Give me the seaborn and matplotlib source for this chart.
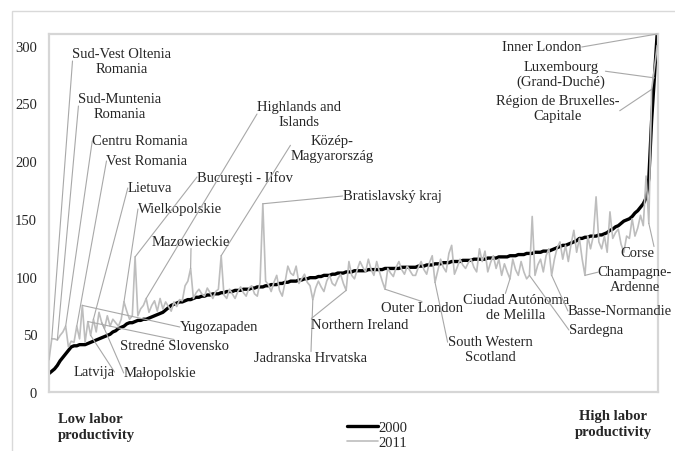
import matplotlib
matplotlib.use("Agg")
import matplotlib.pyplot as plt
from matplotlib.patches import Rectangle
import numpy as np
import pandas as pd
import seaborn as sns

# ---------------- data ----------------
# regions sorted by 2000 labour productivity (index = rank)
prod_2000 = [16, 18, 20, 23, 27, 30, 33, 36, 39,
             40, 40, 41, 41, 41, 42,
             43, 44, 45, 46, 47, 48, 49, 50,
             52, 53, 55, 56, 57, 59,
             60, 60, 61, 62, 62, 63, 63,
             64, 65, 66, 67, 68, 69,
             71, 73, 75,
             76, 77, 78, 78, 79, 80, 80, 81, 82, 82, 83,
             83, 84, 84, 85, 85, 85, 86, 86, 87, 87,
             87, 88, 88, 88, 89, 89, 89, 90, 90, 91, 91, 91, 92,
             92, 93, 93, 93, 94, 94, 95, 95, 96, 96, 96, 97,
             97, 98, 98, 99, 99, 99, 100, 100, 101, 101, 101, 102,
             102, 103, 103, 103, 104, 104, 104, 105,
             105, 105, 105, 105, 106, 106, 106, 106, 106, 106, 107, 107, 107, 107, 107, 107, 108, 108, 108, 108, 108,
             108, 109, 109, 109, 110, 110, 110, 111, 111, 111, 112, 112, 112, 113, 113,
             113, 113, 114, 114, 114, 114, 115, 115, 115, 115, 115, 116, 116, 116, 116, 117, 117, 117,
             117, 118, 118, 118, 119, 119, 119, 120, 120,
             120, 121, 121, 121, 122, 122, 122,
             123, 124, 125, 126, 127, 127,
             128, 129, 130, 131, 133,
             133, 134, 134, 135, 135, 135, 136, 136, 137,
             138, 140, 141, 143, 144, 146, 148,
             149, 150, 152, 155, 157, 160, 163,
             168, 185, 235, 272, 310]

prod_2011 = [28, 46, 46, 45, 49, 52, 57, 39, 44, 43,
             57, 46, 75, 43, 61, 49, 63, 52, 69, 60,
             55, 66, 57, 63, 60, 57, 63, 78, 70, 63,
             66, 117, 66, 72, 75, 81, 69, 75, 79, 70,
             81, 72, 78, 74, 70, 78, 74, 80, 79, 92,
             96, 107, 81, 86, 89, 85, 83, 90, 86, 81,
             87, 89, 118, 84, 81, 89, 85, 81, 87, 91,
             86, 83, 90, 92, 85, 83, 95, 163, 96, 93,
             87, 95, 101, 88, 83, 95, 109, 103, 101, 109,
             94, 98, 102, 95, 92, 80, 90, 96, 91, 87,
             96, 101, 94, 92, 98, 102, 94, 88, 113, 101,
             98, 106, 113, 108, 104, 115, 106, 101, 113, 104,
             96, 89, 107, 103, 100, 108, 113, 106, 102, 109,
             105, 101, 101, 108, 113, 106, 102, 112, 118, 95,
             105, 115, 108, 104, 120, 127, 102, 108, 115, 110,
             107, 112, 115, 108, 104, 124, 113, 122, 104, 112,
             118, 107, 115, 101, 111, 104, 98, 115, 106, 101,
             113, 104, 98, 101, 152, 101, 110, 115, 104, 118,
             124, 101, 115, 125, 130, 115, 127, 113, 128, 140,
             121, 133, 115, 101, 135, 124, 135, 169, 130, 124,
             135, 121, 156, 133, 138, 141, 128, 121, 135, 133,
             150, 135, 142, 153, 144, 187, 146, 262, 280, 300]

series_names = ["2000", "2011"]
y_ticks = [0, 50, 100, 150, 200, 250, 300]

# annotated regions: name, rank index, series
region_names = ["Sud-Vest Oltenia\nRomania", "Sud-Muntenia\nRomania", "Centru Romania",
                "Vest Romania", "Lietuva", "Wielkopolskie", "Bucureşti - Ilfov",
                "Highlands and\nIslands", "Közép-\nMagyarország", "Mazowieckie",
                "Bratislavský kraj", "Yugozapaden", "Stredné Slovensko", "Latvija",
                "Małopolskie", "Jadranska Hrvatska", "Northern Ireland", "Outer London",
                "South Western\nScotland", "Ciudad Autónoma\nde Melilla", "Sardegna",
                "Basse-Normandie", "Champagne-\nArdenne", "Corse", "Inner London",
                "Luxembourg\n(Grand-Duché)", "Région de Bruxelles-\nCapitale"]
region_rank = [1, 3, 6, 10, 16, 27, 31, 35, 62, 51, 77, 12, 14, 15, 19, 95, 107, 121,
               139, 166, 173, 181, 193, 216, 219, 218, 217]
region_series = ["2011"] * 24 + ["2000", "2000", "2011"]

# label layout (pixel centre from top-left) and leader attachment point on the label
label_pos = [(122, 62), (120, 107), (140, 142), (147, 162), (150, 189), (180, 210),
             (245, 178), (299, 115), (332, 149), (191, 243), (392, 197), (219, 328),
             (174, 347), (94, 373), (160, 374), (311, 359), (360, 326), (422, 309),
             (490, 350), (516, 308), (596, 331), (620, 312), (635, 280), (637, 254),
             (542, 48), (561, 75), (558, 109)]
label_relpos = [(0, 0.5), (0, 0.5), (0, 0.5), (0, 0.5), (0, 0.5), (0, 0.5),
                (0, 0.5), (0, 0.5), (0, 0.6), (0.5, 0), (0, 0.5), (0, 0.5),
                (0.5, 1), (1, 0.5), (0, 0.5), (0.5, 1), (0, 1), (0.5, 1),
                (0, 0.75), (0.4, 1), (0, 0.5), (0, 0.5), (0, 0.75), (1, 1),
                (1, 0.5), (1, 0.6), (1, 0.4)]

# ---------------- plot ----------------
sns.set_style("white")
plt.rcParams["font.family"] = ["Liberation Serif", "DejaVu Serif"]
FS = 10.5

W, H = 675, 452
fig = plt.figure(figsize=(W / 100, H / 100), dpi=100)
ax = fig.add_axes([49 / W, 1 - 393 / H, (658 - 49) / W, (393 - 35) / H])

rank = np.arange(len(prod_2000))
df = pd.DataFrame({"rank": rank, "2000": prod_2000, "2011": prod_2011})

sns.lineplot(data=df, x="rank", y="2000", color="black", linewidth=2.4,
             label=series_names[0], ax=ax, zorder=2)
sns.lineplot(data=df, x="rank", y="2011", color="#bdbdbd", linewidth=1.2,
             label=series_names[1], ax=ax, zorder=3)

ax.set_xlim(0, len(rank) - 0.7)
ax.set_ylim(0, 310)
ax.set_xticks([])
ax.set_yticks(y_ticks)
ax.set_yticklabels([str(t) for t in y_ticks])
ax.tick_params(axis="y", length=0, pad=8.5, labelsize=FS)
ax.set_xlabel("")
ax.set_ylabel("")
for sp in ax.spines.values():
    sp.set_color("#d6d6d6")
    sp.set_linewidth(1.6)

# leaders + labels
for name, r, s, (tx, ty), rp in zip(region_names, region_rank, region_series,
                                      label_pos, label_relpos):
    val = df.loc[r, s]
    ax.annotate(name, xy=(r, val), xycoords="data",
                xytext=(tx, H - ty), textcoords="figure pixels",
                ha="center", va="center", fontsize=FS, linespacing=1.12,
                multialignment="center", zorder=5,
                arrowprops=dict(arrowstyle="-", color="#a8a8a8", lw=0.8,
                                shrinkA=0, shrinkB=0, patchA=None, relpos=rp))

# legend
leg = ax.legend(loc="upper left", bbox_to_anchor=(347 / W, 1 - 422 / H),
                bbox_transform=fig.transFigure, frameon=False, fontsize=FS,
                handlelength=2.1, handletextpad=0.05, labelspacing=0.1,
                borderpad=0, borderaxespad=0)

# end labels
fig.text(58 / W, 1 - 428 / H, "Low labor\nproductivity", ha="left", va="center",
         fontsize=FS, fontweight="bold", linespacing=1.3)
fig.text(652 / W, 1 - 425 / H, "High labor\nproductivity", ha="right", va="center",
         fontsize=FS, fontweight="bold", linespacing=1.3, multialignment="center")

# outer frame
fig.add_artist(Rectangle((12 / W, -0.05), 1.0, 1.05 - 12 / H, transform=fig.transFigure,
                         fill=False, edgecolor="#d9d9d9", linewidth=1.0))

fig.savefig("out.png", dpi=100)
